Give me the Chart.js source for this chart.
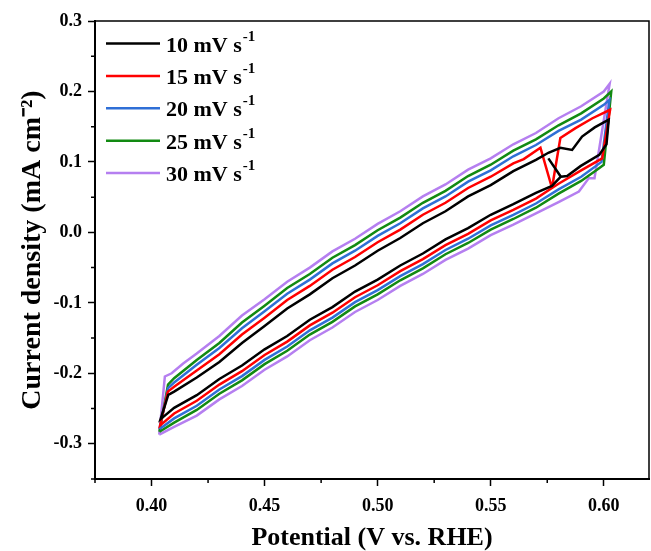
<!DOCTYPE html>
<html><head><meta charset="utf-8">
<script src="https://cdn.jsdelivr.net/npm/chart.js@4.4.1/dist/chart.umd.min.js"></script>
<style>html,body{margin:0;padding:0;background:#fff;}</style>
</head><body>
<canvas id="c" width="651" height="551"></canvas>
<script>
const xTicks = [0.40, 0.45, 0.50, 0.55, 0.60];
const yTicks = [-0.3, -0.2, -0.1, 0.0, 0.1, 0.2, 0.3];
const xMinorTicks = [0.375, 0.425, 0.475, 0.525, 0.575];
const yMinorTicks = [-0.35, -0.25, -0.15, -0.05, 0.05, 0.15, 0.25];
const seriesLabels = ['10 mV s⁻¹', '15 mV s⁻¹', '20 mV s⁻¹', '25 mV s⁻¹', '30 mV s⁻¹'];
const seriesColors = ['#000000', '#ff0000', '#2f6fd6', '#128a12', '#b57ff0'];

const potential10 = [0.5755,0.5810,0.5771,0.570,0.560,0.550,0.540,0.530,0.520,0.510,0.500,0.490,0.480,0.470,0.460,0.450,0.440,0.430,0.420,0.410,0.404,
  0.4074,0.410,0.420,0.430,0.440,0.450,0.460,0.470,0.480,0.490,0.500,0.510,0.520,0.530,0.540,0.550,0.560,0.570,0.5755,0.5808,0.586,0.5904,0.596,0.600,0.6022,
  0.6012,0.598,0.5897,0.5838,0.5810];
const current10 = [0.105,0.079,0.066,0.056,0.040,0.025,0.006,-0.010,-0.030,-0.047,-0.067,-0.084,-0.106,-0.124,-0.147,-0.166,-0.189,-0.208,-0.231,-0.249,-0.265,
  -0.2305,-0.226,-0.206,-0.184,-0.157,-0.133,-0.108,-0.088,-0.065,-0.047,-0.026,-0.008,0.013,0.030,0.051,0.067,0.087,0.103,0.113,0.120,0.117,0.136,0.149,0.156,0.160,
  0.125,0.110,0.094,0.080,0.079];

const potential15 = [0.5771,0.5808,0.5875,0.595,0.6028,0.5993,0.590,0.580,0.5771,0.570,0.560,0.550,0.540,0.530,0.520,0.510,0.500,0.490,0.480,0.470,0.460,0.450,0.440,0.430,0.420,0.410,0.4038,
  0.4072,0.410,0.420,0.430,0.440,0.450,0.460,0.470,0.480,0.490,0.500,0.510,0.520,0.530,0.540,0.550,0.560,0.5646,0.572,0.5771];
const current15 = [0.063,0.134,0.148,0.162,0.174,0.105,0.088,0.069,0.063,0.048,0.032,0.017,-0.002,-0.018,-0.038,-0.055,-0.075,-0.092,-0.114,-0.132,-0.155,-0.174,-0.197,-0.216,-0.239,-0.257,-0.274,
  -0.226,-0.219,-0.196,-0.173,-0.145,-0.121,-0.096,-0.076,-0.053,-0.035,-0.014,0.004,0.025,0.042,0.063,0.079,0.098,0.104,0.120,0.063];

const potential20 = [0.4036,0.4073,0.410,0.420,0.430,0.440,0.450,0.460,0.470,0.480,0.490,0.500,0.510,0.520,0.530,0.540,0.550,0.560,0.570,0.580,0.590,0.600,0.6025,
  0.5990,0.590,0.580,0.570,0.560,0.550,0.540,0.530,0.520,0.510,0.500,0.490,0.480,0.470,0.460,0.450,0.440,0.430,0.420,0.410,0.4036];
const current20 = [-0.279,-0.221,-0.213,-0.188,-0.164,-0.136,-0.112,-0.087,-0.067,-0.044,-0.026,-0.005,0.013,0.034,0.051,0.072,0.088,0.108,0.124,0.144,0.160,0.181,0.188,
  0.100,0.079,0.061,0.041,0.025,0.010,-0.009,-0.025,-0.045,-0.062,-0.082,-0.099,-0.121,-0.139,-0.162,-0.181,-0.204,-0.223,-0.246,-0.264,-0.279];

const potential25 = [0.4035,0.4073,0.410,0.420,0.430,0.440,0.450,0.460,0.470,0.480,0.490,0.500,0.510,0.520,0.530,0.540,0.550,0.560,0.570,0.580,0.590,0.600,0.6033,
  0.6000,0.597,0.590,0.580,0.570,0.560,0.550,0.540,0.530,0.520,0.510,0.500,0.490,0.480,0.470,0.460,0.450,0.440,0.430,0.420,0.410,0.4035];
const current25 = [-0.283,-0.216,-0.207,-0.181,-0.157,-0.128,-0.104,-0.079,-0.059,-0.036,-0.018,0.003,0.021,0.042,0.059,0.080,0.096,0.116,0.132,0.152,0.169,0.190,0.200,
  0.096,0.089,0.073,0.055,0.035,0.019,0.004,-0.015,-0.031,-0.051,-0.068,-0.088,-0.105,-0.127,-0.145,-0.168,-0.187,-0.210,-0.229,-0.252,-0.270,-0.283];

const potential30 = [0.4034,0.4059,0.4089,0.414,0.420,0.430,0.440,0.450,0.460,0.470,0.480,0.490,0.500,0.510,0.520,0.530,0.540,0.550,0.560,0.570,0.580,0.590,0.600,0.6026,
  0.5959,0.5934,0.589,0.580,0.570,0.560,0.550,0.540,0.530,0.520,0.510,0.500,0.490,0.480,0.470,0.460,0.450,0.440,0.430,0.420,0.410,0.4034];
const current30 = [-0.287,-0.2045,-0.200,-0.186,-0.172,-0.147,-0.118,-0.095,-0.070,-0.050,-0.027,-0.009,0.012,0.030,0.051,0.068,0.089,0.105,0.125,0.141,0.162,0.179,0.200,0.211,
  0.077,0.077,0.058,0.043,0.027,0.011,-0.004,-0.023,-0.039,-0.059,-0.076,-0.096,-0.113,-0.135,-0.153,-0.176,-0.195,-0.218,-0.237,-0.260,-0.276,-0.287];

const potentials = [potential10, potential15, potential20, potential25, potential30];
const currents = [current10, current15, current20, current25, current30];

const FONT = "'Liberation Serif', 'Times New Roman', serif";
Chart.defaults.font.family = FONT;
Chart.defaults.color = '#000';

const datasets = seriesLabels.map((lab, i) => ({
  label: lab,
  data: potentials[i].map((x, j) => ({x: x, y: currents[i][j]})),
  borderColor: seriesColors[i],
  backgroundColor: seriesColors[i],
  borderWidth: 2.5,
  pointRadius: 0,
  tension: 0,
  fill: false
}));

const extras = {
  id: 'extras',
  afterDraw(chart) {
    const ctx = chart.ctx, a = chart.chartArea;
    const xs = chart.scales.x, ys = chart.scales.y;
    ctx.save();
    ctx.strokeStyle = '#000';
    ctx.lineWidth = 1.5;
    ctx.beginPath();
    ctx.moveTo(a.left, a.top); ctx.lineTo(a.right, a.top); ctx.lineTo(a.right, a.bottom);
    ctx.stroke();
    ctx.beginPath();
    xMinorTicks.forEach(v => { const p = xs.getPixelForValue(v); ctx.moveTo(p, a.bottom); ctx.lineTo(p, a.bottom + 4); });
    yMinorTicks.forEach(v => { const p = ys.getPixelForValue(v); ctx.moveTo(a.left, p); ctx.lineTo(a.left - 4, p); });
    ctx.stroke();
    // legend
    const x0 = 106, x1 = 160, tx = 166, y0 = 43.5, dy = 32.4;
    chart.data.datasets.forEach((ds, i) => {
      const y = y0 + i * dy;
      ctx.strokeStyle = ds.borderColor; ctx.lineWidth = 2.5;
      ctx.beginPath(); ctx.moveTo(x0, y); ctx.lineTo(x1, y); ctx.stroke();
      const base = ds.label.replace('⁻¹', '');
      ctx.fillStyle = '#000';
      ctx.textBaseline = 'alphabetic';
      ctx.font = 'bold 22px ' + FONT;
      ctx.fillText(base, tx, y + 8);
      const w = ctx.measureText(base).width;
      ctx.font = 'bold 15px ' + FONT;
      ctx.fillText('-1', tx + w + 1, y - 3);
    });
    ctx.restore();
  }
};

new Chart(document.getElementById('c'), {
  type: 'line',
  data: { datasets },
  options: {
    responsive: false,
    devicePixelRatio: 1,
    animation: false,
    layout: { padding: { left: 0, right: 2, top: 21, bottom: 0 } },
    plugins: { legend: { display: false }, tooltip: { enabled: false } },
    scales: {
      x: {
        type: 'linear', min: 0.375, max: 0.62,
        afterBuildTicks: s => { s.ticks = xTicks.map(v => ({ value: v })); },
        afterFit: s => { s.height = 72; },
        ticks: { callback: v => v.toFixed(2), font: { size: 18, weight: 'bold' }, color: '#000', padding: 10, maxRotation: 0 },
        grid: { drawOnChartArea: false, tickLength: 7, tickColor: '#000', tickWidth: 1.5 },
        border: { color: '#000', width: 2 },
        title: { display: true, text: 'Potential (V vs. RHE)', font: { size: 26, weight: 'bold', lineHeight: 1 }, color: '#000', padding: { top: 0, bottom: 0 } }
      },
      y: {
        type: 'linear', min: -0.35, max: 0.3,
        afterBuildTicks: s => { s.ticks = yTicks.map(v => ({ value: v })); },
        afterFit: s => { s.width = 95; },
        ticks: { callback: v => v.toFixed(1), font: { size: 18, weight: 'bold' }, color: '#000', padding: 6 },
        grid: { drawOnChartArea: false, tickLength: 7, tickColor: '#000', tickWidth: 1.5 },
        border: { color: '#000', width: 2 },
        title: { display: true, text: 'Current density (mA cm⁻²)', font: { size: 28, weight: 'bold', lineHeight: 1.2 }, color: '#000', padding: { top: 16, bottom: 0 } }
      }
    }
  },
  plugins: [extras]
});
</script>
</body></html>
